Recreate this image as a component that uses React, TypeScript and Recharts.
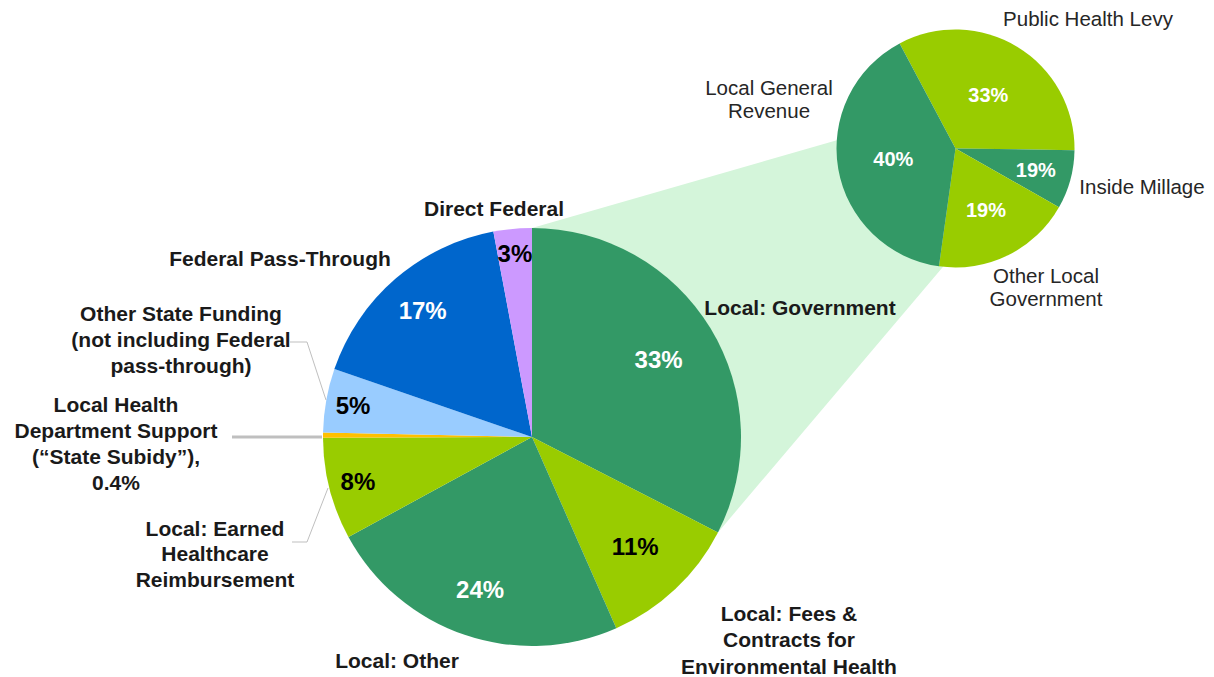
import React from "react";
import { PieChart, Pie, Cell } from "recharts";

// ---- data ----
const mainCategories = [
  "Local: Government",
  "Local: Fees & Contracts for Environmental Health",
  "Local: Other",
  "Local: Earned Healthcare Reimbursement",
  "Local Health Department Support (“State Subidy”)",
  "Other State Funding (not including Federal pass-through)",
  "Federal Pass-Through",
  "Direct Federal",
];
const mainValues = [33, 11, 24, 8, 0.4, 5, 17, 3];
const mainValueLabels = ["33%", "11%", "24%", "8%", "", "5%", "17%", "3%"];

const subCategories = [
  "Public Health Levy",
  "Inside Millage",
  "Other Local Government",
  "Local General Revenue",
];
const subValues = [33, 8, 19, 40];
const subValueLabels = ["33%", "19%", "19%", "40%"];

// ---- styling / layout ----
const W = 1214;
const H = 677;
const FONT = '"Liberation Sans", Arial, sans-serif';
const DARK_GREEN = "#339966";
const LIME = "#99CC00";
const mainColors = [DARK_GREEN, LIME, DARK_GREEN, LIME, "#FFC000", "#99CCFF", "#0066CC", "#CC99FF"];
const mainLabelColors = ["#fff", "#000", "#fff", "#000", "#000", "#000", "#fff", "#000"];
const mainLabelRadius = [0.71, 0.72, 0.77, 0.86, 0.9, 0.87, 0.8, 0.88];
const subColors = [LIME, DARK_GREEN, LIME, DARK_GREEN];
const subLabelRadius = [0.53, 0.7, 0.58, 0.53];

const MAIN = { cx: 532, cy: 437, r: 209, start: 90 };
const SUB = { cx: 955.5, cy: 148.5, r: 119, start: 118 };

const RAD = Math.PI / 180;
const polar = (cx: number, cy: number, r: number, deg: number) => [
  cx + r * Math.cos(-deg * RAD),
  cy + r * Math.sin(-deg * RAD),
];

// connector: from the "Local: Government" slice to the sub pie
const mainTotal = mainValues.reduce((a, b) => a + b, 0);
const govEndAngle = MAIN.start - (mainValues[0] / mainTotal) * 360;
const p1 = polar(MAIN.cx, MAIN.cy, MAIN.r, MAIN.start);
const p2 = polar(SUB.cx, SUB.cy, SUB.r, 176);
const p3 = polar(SUB.cx, SUB.cy, SUB.r, -96);
const p4 = polar(MAIN.cx, MAIN.cy, MAIN.r, govEndAngle);
const connector = [p1, p2, [SUB.cx, SUB.cy], p3, p4, [MAIN.cx, MAIN.cy]]
  .map((p) => p.join(","))
  .join(" ");

type TextBlock = { lines: string[]; x: number; y: number; bold: boolean; lh: number };
const textBlocks: TextBlock[] = [
  { lines: ["Direct Federal"], x: 494, y: 208, bold: true, lh: 26 },
  { lines: ["Federal Pass-Through"], x: 280, y: 258, bold: true, lh: 26 },
  { lines: ["Other State Funding", "(not including Federal", "pass-through)"], x: 181, y: 313, bold: true, lh: 26 },
  { lines: ["Local Health", "Department Support", "(“State Subidy”),", "0.4%"], x: 116, y: 404, bold: true, lh: 26.3 },
  { lines: ["Local: Earned", "Healthcare", "Reimbursement"], x: 215, y: 528, bold: true, lh: 25.5 },
  { lines: ["Local: Other"], x: 397, y: 660, bold: true, lh: 26 },
  { lines: ["Local: Fees &", "Contracts for", "Environmental Health"], x: 789, y: 613, bold: true, lh: 26.5 },
  { lines: ["Local: Government"], x: 800, y: 307, bold: true, lh: 26 },
  { lines: ["Public Health Levy"], x: 1088, y: 18, bold: false, lh: 23 },
  { lines: ["Local General", "Revenue"], x: 769, y: 87, bold: false, lh: 23 },
  { lines: ["Inside Millage"], x: 1142, y: 186, bold: false, lh: 23 },
  { lines: ["Other Local", "Government"], x: 1046, y: 275, bold: false, lh: 23 },
];

const makeLabel =
  (labels: string[], radii: number[], colors: string[], size: number) =>
  (props: any) => {
    const { cx, cy, midAngle, outerRadius, index } = props;
    const txt = labels[index];
    if (!txt) return null;
    const [x, y] = polar(cx, cy, outerRadius * radii[index], midAngle);
    return (
      <text
        x={x}
        y={y}
        fill={colors[index]}
        textAnchor="middle"
        dominantBaseline="central"
        fontFamily={FONT}
        fontWeight="bold"
        fontSize={size}
      >
        {txt}
      </text>
    );
  };

const mainData = mainCategories.map((name, i) => ({ name, value: mainValues[i] }));
const subData = subCategories.map((name, i) => ({ name, value: subValues[i] }));

export default function App() {
  return (
    <div style={{ position: "absolute", left: 0, top: 0, width: W, height: H, background: "#fff" }}>
      <svg width={W} height={H} style={{ position: "absolute", left: 0, top: 0 }}>
        <polygon points={connector} fill="#D4F5DA" />
      </svg>
      <div style={{ position: "absolute", left: 0, top: 0 }}>
        <PieChart width={W} height={H} margin={{ top: 0, right: 0, bottom: 0, left: 0 }}>
          <Pie
            data={mainData}
            dataKey="value"
            cx={MAIN.cx}
            cy={MAIN.cy}
            outerRadius={MAIN.r}
            startAngle={MAIN.start}
            endAngle={MAIN.start - 360}
            stroke="none"
            isAnimationActive={false}
            labelLine={false}
            label={makeLabel(mainValueLabels, mainLabelRadius, mainLabelColors, 24)}
          >
            {mainData.map((d, i) => (
              <Cell key={d.name} fill={mainColors[i]} />
            ))}
          </Pie>
          <Pie
            data={subData}
            dataKey="value"
            cx={SUB.cx}
            cy={SUB.cy}
            outerRadius={SUB.r}
            startAngle={SUB.start}
            endAngle={SUB.start - 360}
            stroke="none"
            isAnimationActive={false}
            labelLine={false}
            label={makeLabel(subValueLabels, subLabelRadius, ["#fff", "#fff", "#fff", "#fff"], 20)}
          >
            {subData.map((d, i) => (
              <Cell key={d.name} fill={subColors[i]} />
            ))}
          </Pie>
        </PieChart>
      </div>
      <svg width={W} height={H} style={{ position: "absolute", left: 0, top: 0, pointerEvents: "none" }}>
        {/* leader lines */}
        <polyline points="290,342 307,342 326,400" fill="none" stroke="#BFBFBF" strokeWidth={1} />
        <line x1={232} y1={437} x2={322} y2={437} stroke="#BFBFBF" strokeWidth={3} />
        <polyline points="292,542 307,542 328,488" fill="none" stroke="#BFBFBF" strokeWidth={1} />
        {textBlocks.map((b, bi) => (
          <text
            key={bi}
            textAnchor="middle"
            fontFamily={FONT}
            fontWeight={b.bold ? "bold" : "normal"}
            fontSize={b.bold ? 21 : 20.5}
            fill={b.bold ? "#1a1a1a" : "#262626"}
          >
            {b.lines.map((ln, li) => (
              <tspan key={li} x={b.x} y={b.y + li * b.lh} dominantBaseline="central">
                {ln}
              </tspan>
            ))}
          </text>
        ))}
      </svg>
    </div>
  );
}
